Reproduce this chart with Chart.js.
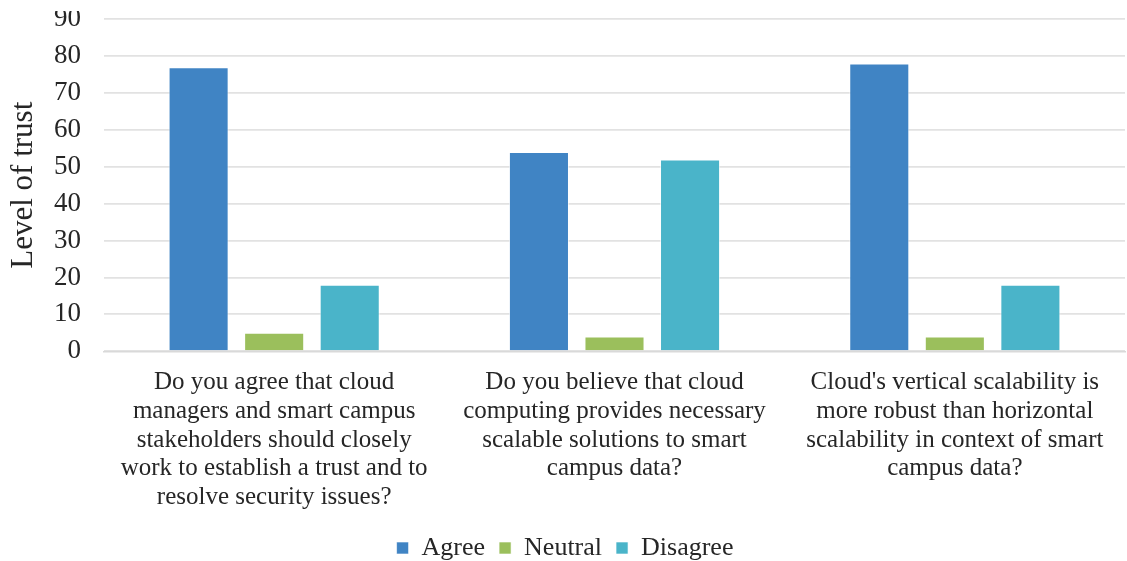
<!DOCTYPE html>
<html>
<head>
<meta charset="utf-8">
<script src="https://cdn.jsdelivr.net/npm/chart.js@4"></script>
<style>
  html, body { margin: 0; padding: 0; background: #fff; }
  #cadre { position: relative; width: 1127px; height: 561px; overflow: hidden; }
  #zone { position: absolute; left: 0; top: -20px; width: 1127px; height: 591px; }
  /* haut de l'image rogné comme dans la figure d'origine */
  #rogne { position: absolute; left: 0; top: 0; width: 1127px; height: 11px; background: #fff; }
</style>
</head>
<body>
<div id="cadre">
  <div id="zone"><canvas id="graphe"></canvas></div>
  <div id="rogne"></div>
</div>
<script>
// Données du graphe
const questions = [
    ["Do you agree that cloud", "managers and smart campus", "stakeholders should closely", "work to establish a trust and to", "resolve security issues?"],
    ["Do you believe that cloud", "computing provides necessary", "scalable solutions to smart", "campus data?"],
    ["Cloud's vertical scalability is", "more robust than horizontal", "scalability in context of smart", "campus data?"]
];
const agree = [77, 54, 78];
const neutral = [5, 4, 4];
const disagree = [18, 52, 18];
const yTicks = [0, 10, 20, 30, 40, 50, 60, 70, 80, 90];

const police = "'Liberation Serif', 'Times New Roman', serif";
const texte = "#262626";

function serie(label, data, couleur) {
    return {
        label: label,
        data: data,
        backgroundColor: couleur,
        borderColor: "rgba(255,255,255,0.6)",
        borderWidth: 1,
        categoryPercentage: 0.666,
        barPercentage: 0.795
    };
}

const ctx = document.getElementById("graphe").getContext("2d");
new Chart(ctx, {
    type: "bar",
    data: {
        labels: questions,
        datasets: [
            serie("Agree", agree, "#4084c4"),
            serie("Neutral", neutral, "#9bbf5c"),
            serie("Disagree", disagree, "#4ab4c9")
        ]
    },
    options: {
        responsive: true,
        maintainAspectRatio: false,
        animation: false,
        layout: { padding: { top: 16, right: 2, left: 5, bottom: 0 } },
        plugins: {
            legend: {
                position: "bottom",
                labels: {
                    font: { family: police, size: 26 },
                    color: texte,
                    boxWidth: 12,
                    boxHeight: 12,
                    padding: 14
                }
            },
            tooltip: { enabled: false }
        },
        scales: {
            x: {
                grid: { display: false },
                border: { color: "#d9d9d9", width: 1.5 },
                ticks: {
                    font: { family: police, size: 25, lineHeight: 1.15 },
                    color: texte,
                    maxRotation: 0,
                    autoSkip: false,
                    padding: 9
                }
            },
            y: {
                min: 0,
                max: 90,
                afterBuildTicks: axe => { axe.ticks = yTicks.map(v => ({ value: v })); },
                afterFit: axe => { axe.width = 99; },
                grid: { color: "#e2e2e2", lineWidth: 1.8, drawTicks: false },
                border: { display: false },
                ticks: {
                    font: { family: police, size: 27 },
                    color: texte,
                    padding: 23,
                    autoSkip: false
                },
                title: {
                    display: true,
                    text: "Level of trust",
                    font: { family: police, size: 31 },
                    color: texte,
                    padding: { top: 0, bottom: 12 }
                }
            }
        }
    }
});
</script>
</body>
</html>
